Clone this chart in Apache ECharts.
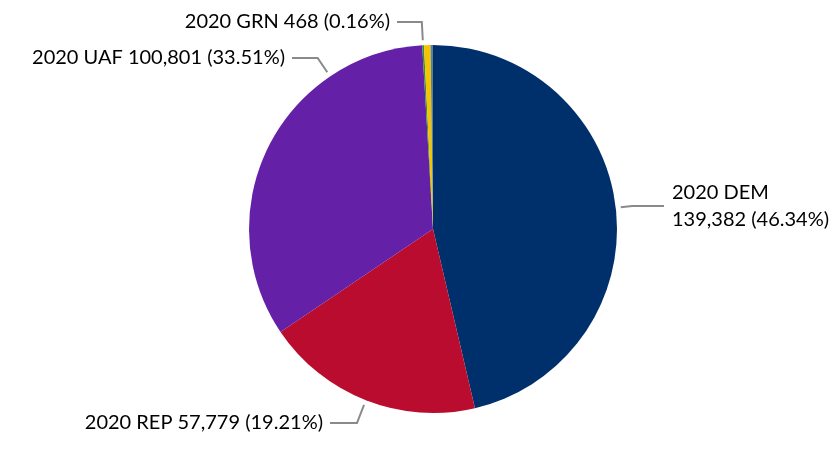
<!DOCTYPE html>
<html>
<head>
<meta charset="utf-8">
<script src="https://cdn.jsdelivr.net/npm/echarts@6/dist/echarts.min.js"></script>
<style>
html,body{margin:0;padding:0;background:#fff;}
#chart{width:840px;height:457px;}
</style>
</head>
<body>
<div id="chart"></div>
<script>
var categories = ['2020 DEM', '2020 REP', '2020 UAF', '2020 GRN', '2020 LIB', '2020 OTH'];
var values = [139382, 57779, 100801, 468, 1700, 652];
var colors = ['#00306B', '#BA0C2F', '#6420A6', '#3A8C3A', '#F5C400', '#5B7F95'];
var showLabel = [true, true, true, true, false, false];

// label placement (layout only)
var CX = 433, CY = 229, R = 184;
var labelSpots = [
  {x: 672, y: 206, align: 'left', angle: null},
  {x: 323, y: 423, align: 'right', angle: null},
  {x: 285, y: 58, align: 'right', angle: 326},
  {x: 390, y: 22, align: 'right', angle: null},
  null, null
];

var total = values.reduce(function (a, b) { return a + b; }, 0);
function midAngle(i) {
  var cum = 0;
  for (var k = 0; k < i; k++) cum += values[k];
  return (cum + values[i] / 2) / total * 360;
}

var chart = echarts.init(document.getElementById('chart'));
var data = categories.map(function (c, i) {
  return {
    name: c,
    value: values[i],
    itemStyle: {color: colors[i]},
    label: {show: showLabel[i]},
    labelLine: {show: showLabel[i]}
  };
});

chart.setOption({
  animation: false,
  series: [{
    type: 'pie',
    center: [CX, CY],
    radius: [0, R],
    startAngle: 90,
    clockwise: true,
    avoidLabelOverlap: false,
    data: data,
    itemStyle: {borderWidth: 0},
    label: {
      fontFamily: 'Lato',
      fontSize: 20,
      color: '#000',
      lineHeight: 27,
      formatter: function (p) {
        var txt = p.value.toLocaleString('en-US') + ' (' + p.percent.toFixed(2) + '%)';
        if (p.dataIndex === 0) return p.name + '\n' + txt;
        return p.name + ' ' + txt;
      }
    },
    labelLine: {
      show: true,
      length: 10,
      length2: 20,
      lineStyle: {color: '#8a8a8a', width: 2}
    },
    labelLayout: function (params) {
      var i = params.dataIndex;
      var s = labelSpots[i];
      if (!s) return {};
      var ang = (s.angle != null ? s.angle : midAngle(i)) * Math.PI / 180;
      var dx = Math.sin(ang), dy = -Math.cos(ang);
      var sx = CX + (R + 5) * dx, sy = CY + (R + 5) * dy;
      var t = Math.abs(dy) > 0.05 ? (s.y - sy) / dy : 0;
      t = Math.max(0, Math.min(30, t));
      var ex = sx + t * dx, ey = sy + t * dy;
      var endX = s.align === 'left' ? s.x - 8 : s.x + 7;
      return {
        x: s.x, y: s.y, align: s.align, verticalAlign: 'middle',
        labelLinePoints: [[sx, sy], [ex, ey], [endX, s.y]]
      };
    }
  }]
});
</script>
</body>
</html>
